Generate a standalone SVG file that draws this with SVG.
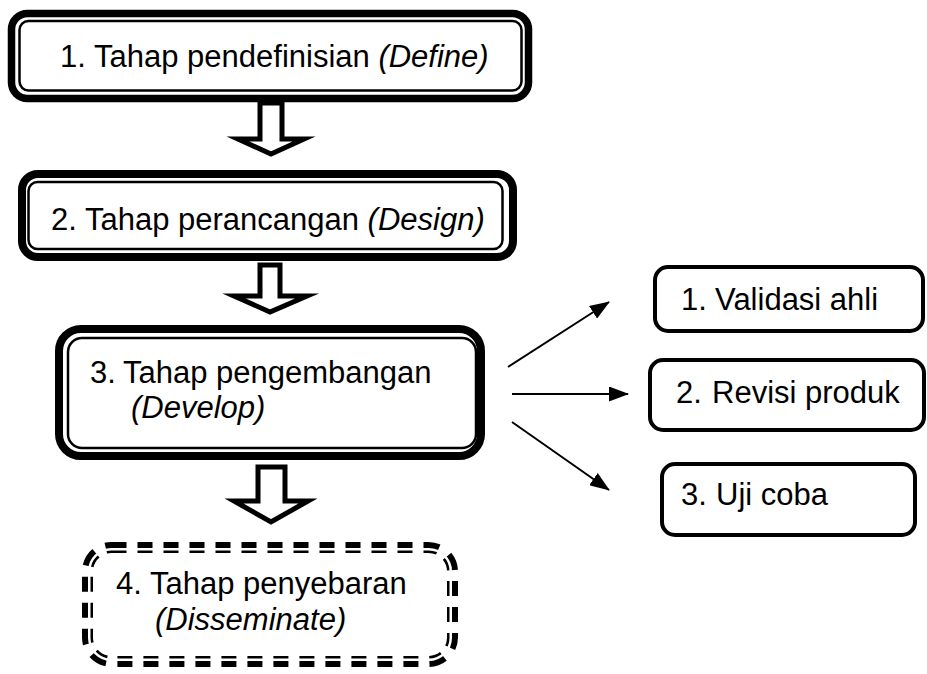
<svg xmlns="http://www.w3.org/2000/svg" width="927" height="674" viewBox="0 0 927 674">
  <style>
    .txt { font-family: "Liberation Sans", Arial, sans-serif; font-size: 31px; fill: #000; }
    .it { font-style: italic; }
    .thick { fill: #fff; stroke: #000; stroke-width: 7.5; }
    .thin { fill: none; stroke: #000; stroke-width: 2.5; }
    .box { fill: #fff; stroke: #000; stroke-width: 4; }
    .blk { fill: #fff; stroke: #000; stroke-width: 5; stroke-linejoin: miter; stroke-miterlimit: 10; }
    .conn { stroke: #000; stroke-width: 2; fill: none; }
  </style>
  <defs>
    <marker id="ah" markerUnits="userSpaceOnUse" markerWidth="20" markerHeight="15" refX="19" refY="7.5" orient="auto">
      <path d="M0,0 L20,7.5 L0,15 z" fill="#000"/>
    </marker>
  </defs>
  <rect width="927" height="674" fill="#fff"/>

  <g id="connectors">
    <polygon class="blk" points="260,103 282,103 282,139 304,139 271,154 238,139 260,139"/>
    <polygon class="blk" points="260,265 280,265 280,296 307,296 270,312 234,296 260,296"/>
    <polygon class="blk" points="258,467 285,467 285,501 308,501 271,522 234,501 258,501"/>
    <line class="conn" x1="508" y1="367" x2="609" y2="302" marker-end="url(#ah)"/>
    <line class="conn" x1="512" y1="394" x2="628" y2="394" marker-end="url(#ah)"/>
    <line class="conn" x1="512" y1="422" x2="609" y2="490" marker-end="url(#ah)"/>
  </g>

  <g id="define">
    <rect class="thick" x="11.5" y="13.5" width="517" height="85" rx="16"/>
    <rect class="thin" x="19.5" y="21" width="502" height="69.5" rx="9"/>
    <text class="txt" x="60" y="67">1.<tspan x="94">Tahap pendefinisian </tspan><tspan class="it">(Define)</tspan></text>
  </g>

  <g id="design">
    <rect class="thick" x="22" y="174" width="491" height="83" rx="16" style="stroke-width:8"/>
    <rect class="thin" x="28.5" y="182" width="474" height="67" rx="9"/>
    <text class="txt" x="51" y="230">2. Tahap perancangan <tspan class="it">(Design)</tspan></text>
  </g>

  <g id="develop">
    <rect class="thick" x="59" y="329" width="422" height="127" rx="22" style="stroke-width:8"/>
    <rect class="thin" x="68" y="338" width="408" height="110" rx="14"/>
    <text class="txt" x="90" y="383">3.<tspan x="123">Tahap pengembangan</tspan></text>
    <text class="txt it" x="131" y="418">(Develop)</text>
  </g>

  <g id="disseminate">
    <rect x="87.5" y="547.5" width="365" height="114" rx="24" fill="none" stroke="#000" stroke-width="11" stroke-dasharray="15 11"/>
    <rect x="89.25" y="549.25" width="361.5" height="110.5" rx="22" fill="none" stroke="#fff" stroke-width="2.5"/>
    <text class="txt" x="116" y="594">4.<tspan x="150">Tahap penyebaran</tspan></text>
    <text class="txt it" x="155" y="630">(Disseminate)</text>
  </g>

  <g id="validasi">
    <rect class="box" x="655" y="267" width="268" height="64" rx="13"/>
    <text class="txt" x="681" y="310">1.<tspan x="715">Validasi ahli</tspan></text>
  </g>

  <g id="revisi">
    <rect class="box" x="650" y="360" width="274" height="70" rx="13"/>
    <text class="txt" x="676" y="403">2.<tspan x="712">Revisi produk</tspan></text>
  </g>

  <g id="ujicoba">
    <rect class="box" x="662" y="464" width="253" height="71" rx="13"/>
    <text class="txt" x="681" y="505">3.<tspan x="716">Uji coba</tspan></text>
  </g>
</svg>
